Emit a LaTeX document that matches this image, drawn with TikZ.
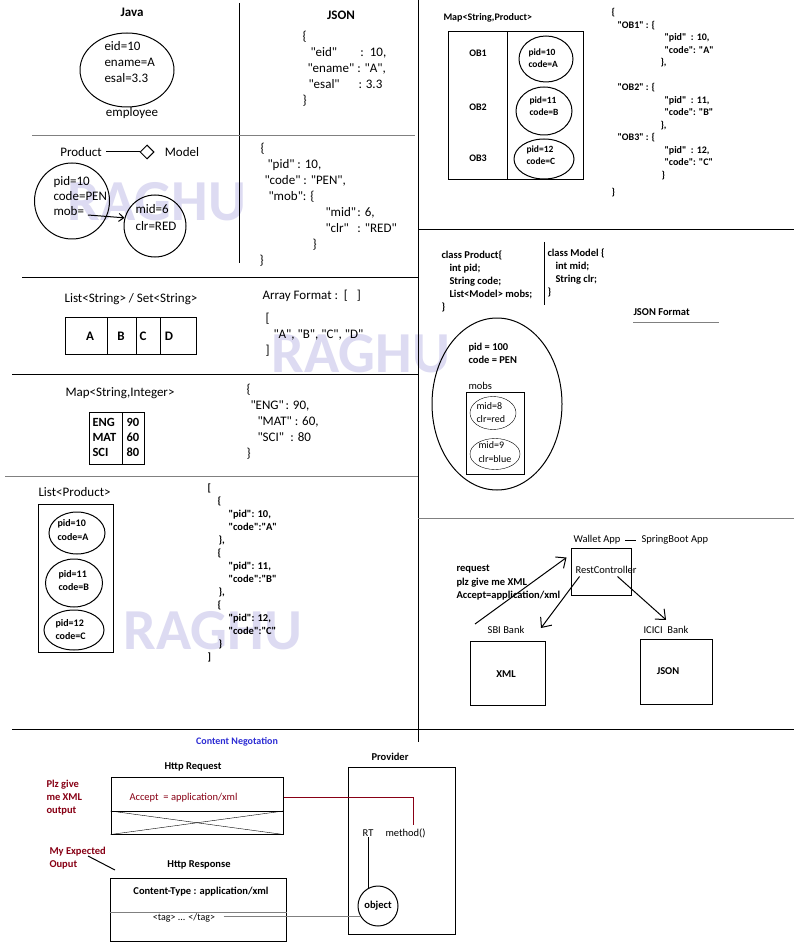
\documentclass[tikz,border=0pt]{standalone}
\usepackage{fontspec}
\setmainfont{Carlito}[Ligatures=TeXOff]
\usepackage{xcolor}
\usepackage{tikz}
\usetikzlibrary{arrows.meta, positioning, calc, shapes.geometric}

\definecolor{wmark}{RGB}{221,219,242}
\definecolor{noteRed}{RGB}{136,0,21}
\definecolor{titleBlue}{RGB}{44,44,212}
\newcommand{\jin}[1]{\hspace*{#1pt}}

\begin{document}
\begin{tikzpicture}[
        x=1pt, y=-1pt,
        line width=1pt,
        txtbig/.style={inner sep=0, align=left, font=\fontsize{13}{16}\selectfont},
        txthead/.style={inner sep=0, align=left, font=\bfseries\fontsize{13}{16}\selectfont},
        txtmid/.style={inner sep=0, align=left, font=\bfseries\fontsize{10.5}{13}\selectfont},
        txtmidreg/.style={inner sep=0, align=left, font=\fontsize{10.5}{13}\selectfont},
        txtsmall/.style={inner sep=0, align=left, font=\bfseries\fontsize{10}{12.5}\selectfont},
        oval/.style={ellipse, draw, inner sep=0},
        rbox/.style={rectangle, draw, inner sep=0},
        note/.style={text=noteRed},
        watermark/.style={inner sep=0, text=wmark, font=\bfseries\fontsize{58}{58}\selectfont},
        arrow/.style={-{Straight Barb[length=8pt, width=14pt]}},
        tip/.style={-{Straight Barb[length=5pt, width=8pt]}}
    ]
        \useasboundingbox[fill=white] (0,0) rectangle (794,949);
        % multi-line texts are placed by the baseline of their last line

        % --- Watermarks ---
        \node[watermark] (wm1) at (157,202) {RAGHU};
        \node[watermark] (wm2) at (361,354) {RAGHU};
        \node[watermark] (wm3) at (213,631) {RAGHU};

        % --- Frame lines ---
        \draw (239,3) -- (239,263);
        \draw[gray] (32,136) -- (415,136);
        \draw (22,278) -- (418,278);
        \draw (12,374) -- (418,374);
        \draw[gray] (5,476) -- (418,476);
        \draw (418,0) -- (418,742);
        \draw (418,230) -- (794,230);
        \draw[gray] (418,518) -- (794,518);
        \draw (12,729) -- (794,729);

        % --- Java object vs JSON ---
        \node[txthead] (java) at (132,12) {Java};
        \node[oval, minimum width=94, minimum height=74] (emp) at (127,70) {};
        \node[txtbig, anchor=base west] (empdata) at (104,83) {eid=10\\ename=A\\esal=3.3};
        \node[txtbig] (emplbl) at (132,113) {employee};
        \node[txthead] (json) at (341,15) {JSON};
        \node[txtbig, anchor=base west] (empjson) at (302,105) {\{\\\jin{8}\makebox[50pt][l]{"eid"}:\ \ 10,\\\jin{5}"ename" : "A",\\\jin{6}\makebox[50pt][l]{"esal"}: 3.3\\\}};

        % --- Has-A relation ---
        \node[txtbig] (prod) at (81,152) {Product};
        \node[diamond, draw, inner sep=0, minimum width=14, minimum height=14] (dia) at (147,152) {};
        \node[txtbig] (model) at (182,152) {Model};
        \draw[shorten <=4pt] (prod) -- (dia);
        \node[oval, minimum width=75, minimum height=76] (prodov) at (72,201) {};
        \node[txtbig, anchor=base west] (proddata) at (53,216) {pid=10\\[-1pt]code=PEN\\[-1pt]mob=};
        \node[oval, minimum width=62, minimum height=62] (modov) at (155,226) {};
        \node[txtbig, anchor=base west] (moddata) at (135,231) {mid=6\\[1pt]clr=RED};
        \coordinate (mobref) at (88,215);
        \draw[tip] (mobref) -- (modov.165);
        \node[txtbig, anchor=base west] (prodjson) at (259,265) {\jin{1}\{\\\jin{8}"pid" : 10,\\\jin{5}"code" : "PEN",\\\jin{9}"mob": \{\\\jin{66}\makebox[32pt][l]{"mid"}: 6,\\\jin{66}\makebox[32pt][l]{"clr"}: "RED"\\\jin{53}\}\\\}};

        % --- List / Set ---
        \node[txtbig] (strlbl) at (131,299) {List<String> / Set<String>};
        \node[rbox, minimum width=131, minimum height=37] (strbox) at (130.5,335.5) {};
        \foreach \x in {107,136,160}
            \draw (\x,317) -- (\x,354);
        \node[txthead] (cA) at (90,336) {A};
        \node[txthead] (cB) at (121,336) {B};
        \node[txthead] (cC) at (143,336) {C};
        \node[txthead] (cD) at (169,336) {D};
        \node[txtbig, anchor=base west] (arrlbl) at (262,299) {Array Format :\ \ [\ \ \ ]};
        \node[txtbig, anchor=base west] (arrjson) at (265,354) {[\\\jin{8}"A", "B", "C", "D"\\]};

        % --- Map<String,Integer> ---
        \node[txtbig, anchor=base west] (maplbl) at (65,396) {Map<String,Integer>};
        \node[rbox, minimum width=55, minimum height=52] (mapbox) at (116.5,438) {};
        \draw (122,412) -- (122,464);
        \node[txtbig, anchor=base west, font=\bfseries\fontsize{12.5}{15}\selectfont] (mapkeys) at (92,456) {ENG\\MAT\\SCI};
        \node[txtbig, anchor=base west, font=\bfseries\fontsize{12.5}{15}\selectfont] (mapvals) at (126,456) {90\\60\\80};
        \node[txtbig, anchor=base west] (mapjson) at (246,457) {\{\\\jin{4}\makebox[35pt][l]{"ENG"}: 90,\\\jin{11}"MAT" : 60,\\\jin{11}\makebox[33pt][l]{"SCI"}: 80\\\}};

        % --- List<Product> ---
        \node[txtbig, anchor=base west] (plistlbl) at (38,496) {List<Product>};
        \node[rbox, minimum width=75, minimum height=148] (plist) at (75.5,578) {};
        \node[oval, minimum width=56, minimum height=42] (pl1) at (77,533) {};
        \node[oval, minimum width=57, minimum height=48] (pl2) at (74,583) {};
        \node[oval, minimum width=60, minimum height=40] (pl3) at (74,630) {};
        \node[txtsmall, anchor=base west, font=\bfseries\fontsize{10}{14}\selectfont] (pl1t) at (57,540) {pid=10\\code=A};
        \node[txtsmall, anchor=base west, font=\bfseries\fontsize{10}{13}\selectfont] (pl2t) at (58,590) {pid=11\\code=B};
        \node[txtsmall, anchor=base west, font=\bfseries\fontsize{10}{13}\selectfont] (pl3t) at (55,639) {pid=12\\code=C};
        \node[txtmid, anchor=base west] (pljson) at (207,660.5) {[\\\jin{10}\{\\\jin{21}"pid": 10,\\\jin{21}"code":"A"\\\jin{11}\},\\\jin{10}\{\\\jin{21}"pid": 11,\\\jin{21}"code":"B"\\\jin{11}\},\\\jin{10}\{\\\jin{21}"pid": 12,\\\jin{21}"code":"C"\\\jin{11}\}\\]};

        % --- Map<String,Product> ---
        \node[txtsmall, anchor=base west] (pmaplbl) at (443,21) {Map<String,Product>};
        \node[rbox, minimum width=135, minimum height=148] (pmap) at (515.5,106) {};
        \draw (507,32) -- (507,180);
        \node[txtsmall] (ob1) at (478,53) {OB1};
        \node[txtsmall] (ob2) at (478,107) {OB2};
        \node[txtsmall] (ob3) at (478,158) {OB3};
        \node[oval, minimum width=54, minimum height=46] (pm1) at (546,59) {};
        \node[oval, minimum width=56, minimum height=48] (pm2) at (544,111) {};
        \node[oval, minimum width=60, minimum height=40] (pm3) at (544,159) {};
        \node[txtsmall, anchor=base west, font=\bfseries\fontsize{9.5}{11.5}\selectfont] (pm1t) at (528,67.5) {pid=10\\code=A};
        \node[txtsmall, anchor=base west, font=\bfseries\fontsize{9.5}{12}\selectfont] (pm2t) at (529,116) {pid=11\\code=B};
        \node[txtsmall, anchor=base west, font=\bfseries\fontsize{9.5}{12}\selectfont] (pm3t) at (526,165) {pid=12\\code=C};
        \node[txtsmall, anchor=base west] (pmjson) at (611,196) {\{\\\jin{6}"OB1" : \{\\\jin{53}"pid"\ \ : 10,\\\jin{53}"code": "A"\\\jin{49}\},\\[12.5pt]\jin{6}"OB2" : \{\\\jin{53}"pid"\ \ : 11,\\\jin{53}"code": "B"\\\jin{49}\},\\\jin{6}"OB3" : \{\\\jin{53}"pid"\ \ : 12,\\\jin{53}"code": "C"\\\jin{50}\}\\[5pt]\}};

        % --- Classes and object tree ---
        \node[txtmid, anchor=base west] (clsprod) at (441,310.5) {class Product\{\\\jin{8}int pid;\\\jin{8}String code;\\\jin{8}List<Model> mobs;\\\}};
        \draw (544,242) -- (544,305);
        \node[txtmid, anchor=base west] (clsmodel) at (547,295.5) {class Model \{\\\jin{8}int mid;\\\jin{8}String clr;\\\}};
        \node[txtmid, anchor=base west] (jsonfmt) at (633,315.5) {JSON Format};
        \draw[gray] (633,322) -- (719,322);
        \node[oval, minimum width=130, minimum height=172] (tree) at (497,404) {};
        \node[txtmid, anchor=base west] (treedata) at (468,363.5) {pid = 100\\code = PEN};
        \node[txtmidreg, anchor=base west] (mobslbl) at (468,389.5) {mobs};
        \node[rbox, minimum width=58, minimum height=82] (mobsbox) at (495,433) {};
        \node[oval, thin, minimum width=46, minimum height=33] (mob1) at (493,413) {};
        \node[oval, thin, minimum width=50, minimum height=31] (mob2) at (495,454) {};
        \node[txtmidreg, anchor=base west, font=\fontsize{10}{13}\selectfont] (mob1t) at (476,422) {mid=8\\clr=red};
        \node[txtmidreg, anchor=base west, font=\fontsize{10}{14}\selectfont] (mob2t) at (478,462) {mid=9\\clr=blue};

        % --- Wallet App ---
        \node[txtmidreg] (wallet) at (597,540) {Wallet App};
        \node[txtmidreg, anchor=west] (spring) at (641,540) {SpringBoot App};
        \draw[shorten <=4pt, shorten >=5pt] (wallet) -- (spring);
        \node[rbox, minimum width=60, minimum height=47] (rest) at (601,571.5) {};
        \node[txtmidreg, anchor=base west] (restlbl) at (575,573.5) {RestController};
        \node[txtmid, anchor=base west] (reqtext) at (456,598.5) {request\\[0.5pt]plz give me XML\\[0.5pt]Accept=application/xml};
        \node[txtmidreg] (sbi) at (506,630) {SBI Bank};
        \node[txtmidreg] (icici) at (666,630) {ICICI\ \ Bank};
        \node[rbox, minimum width=75, minimum height=64] (xmlbox) at (507.5,673) {};
        \node[txtmid] (xmllbl) at (506,674) {XML};
        \node[rbox, minimum width=72, minimum height=65] (jsonbox) at (676,671.5) {};
        \node[txtmid] (jsonlbl) at (668,671) {JSON};
        \coordinate (reqstart) at (475,624);
        \coordinate (sbiend) at (541,628);
        \draw[arrow] (reqstart) -- ([shift={(-4,10)}]rest.north west);
        \draw[arrow] ([shift={(9,29)}]rest.north west) -- (sbiend);
        \draw[arrow] ([shift={(47,29)}]rest.north west) -- ([yshift=6]icici.north);

        % --- Content Negotation ---
        \node[txtsmall, text=titleBlue] (cnlbl) at (237,742) {Content Negotation};
        \node[txtmid] (httpreq) at (193,767) {Http Request};
        \node[rbox, minimum width=172, minimum height=57] (reqbox) at (197,805.5) {};
        \coordinate (reqmid) at (197,811);
        \draw (reqbox.west |- reqmid) -- (reqbox.east |- reqmid);
        \draw[thin] (reqbox.west |- reqmid) -- (reqbox.south east);
        \draw[thin] (reqbox.south west) -- (reqbox.east |- reqmid);
        \node[txtmidreg, note, anchor=base west] (accept) at (129,800.5) {Accept\ \ = application/xml};
        \node[txtmid, note, anchor=base west] (plz) at (46,813.5) {Plz give\\me XML\\output};
        \node[txtmid] (provlbl) at (390,757) {Provider};
        \node[rbox, minimum width=107, minimum height=167] (provider) at (401.5,850.5) {};
        \node[txtmidreg] (rt) at (368,833) {RT};
        \node[txtmidreg, anchor=base west] (method) at (385,836.5) {method()};
        \node[circle, draw, inner sep=0, minimum size=40, txtmid] (obj) at (378,906) {object};
        \draw[noteRed] (reqbox.east |- accept) -| ([xshift=8pt, yshift=3pt]method.north);
        \draw (rt.south) -- ([yshift=-3pt]rt.south |- obj.north);
        \node[txtmid, note, anchor=base west] (expect) at (49,867.5) {My Expected\\Ouput};
        \coordinate (expA) at (88,856);
        \coordinate (expB) at (115,870);
        \draw (expA) -- (expB);
        \node[txtmid] (httpresp) at (199,865) {Http Response};
        \node[rbox, minimum width=176, minimum height=63] (respbox) at (198,909.5) {};
        \draw[gray] (respbox.west |- 0,912) -- (respbox.east |- 0,912);
        \node[txtmid] (ctype) at (201,892) {Content-Type : application/xml};
        \node[txtmidreg, font=\fontsize{10}{12}\selectfont] (tag) at (184,918) {<tag> ... </tag>};
        \draw[gray, shorten <=8pt] (tag.east |- obj.210) -- (obj.210);

    \end{tikzpicture}
\end{document}
